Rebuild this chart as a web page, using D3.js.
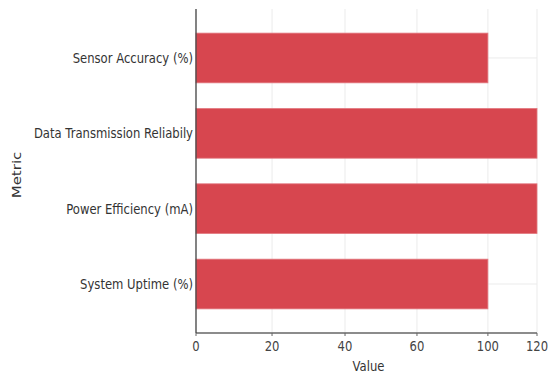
<!DOCTYPE html>
<html>
<head>
<meta charset="utf-8">
<script src="https://cdn.jsdelivr.net/npm/d3@7"></script>
<style>
  html, body { margin: 0; padding: 0; background: #fff; }
  svg { display: block; }
  text { font-family: "DejaVu Sans", sans-serif; fill: #333; }
</style>
</head>
<body>
<svg id="chart" width="548" height="376"></svg>
<script>
// Metrics, top to bottom
const categories = [
  "Sensor Accuracy (%)",
  "Data Transmission Reliabily",
  "Power Efficiency (mA)",
  "System Uptime (%)"
];
const values = [100, 120, 120, 100];
const xTicks = [0, 20, 40, 60, 100, 120];
const xLabel = "Value";
const yLabel = "Metric";

const svg = d3.select("#chart");
const margin = { left: 196, right: 11, top: 9, bottom: 43 };
const W = 548, H = 376;
const plotW = W - margin.left - margin.right;
const plotH = H - margin.top - margin.bottom;
const squeeze = 0.83; // narrow text rendering

// Value axis: uneven spacing between the labelled ticks
const xFrac = [0, 0.223, 0.437, 0.648, 0.856, 1];
const x = d3.scaleLinear()
  .domain(xTicks)
  .range(xFrac.map(f => margin.left + f * plotW));

const y = d3.scaleBand()
  .domain(categories)
  .range([margin.top, margin.top + plotH])
  .paddingInner(0.34)
  .paddingOuter(0.32);

const g = svg.append("g");

// vertical gridlines
g.selectAll(".vgrid").data(xTicks).join("line")
  .attr("x1", d => x(d)).attr("x2", d => x(d))
  .attr("y1", margin.top).attr("y2", margin.top + plotH)
  .attr("stroke", "#ebebeb").attr("stroke-width", 1);

// horizontal gridlines at category centres
g.selectAll(".hgrid").data(categories).join("line")
  .attr("x1", margin.left).attr("x2", margin.left + plotW)
  .attr("y1", d => y(d) + y.bandwidth() / 2)
  .attr("y2", d => y(d) + y.bandwidth() / 2)
  .attr("stroke", "#ebebeb").attr("stroke-width", 1);

// bars
g.selectAll(".bar").data(categories).join("rect")
  .attr("x", x(0))
  .attr("y", d => y(d))
  .attr("width", (d, i) => x(values[i]) - x(0))
  .attr("height", y.bandwidth())
  .attr("fill", "#d7464f")
  .attr("stroke", "#e37a81")
  .attr("stroke-width", 0.8);

// bottom axis line and ticks
g.append("line")
  .attr("x1", margin.left).attr("x2", margin.left + plotW)
  .attr("y1", margin.top + plotH).attr("y2", margin.top + plotH)
  .attr("stroke", "#666").attr("stroke-width", 1.5);
g.selectAll(".xtick").data(xTicks).join("line")
  .attr("x1", d => x(d)).attr("x2", d => x(d))
  .attr("y1", margin.top + plotH).attr("y2", margin.top + plotH + 3)
  .attr("stroke", "#666").attr("stroke-width", 1);

// left axis line
g.append("line")
  .attr("x1", margin.left).attr("x2", margin.left)
  .attr("y1", margin.top).attr("y2", margin.top + plotH)
  .attr("stroke", "#444").attr("stroke-width", 1.3);

// tick labels
g.selectAll(".xlab").data(xTicks).join("text")
  .attr("transform", d => `translate(${x(d)},${margin.top + plotH + 18}) scale(${squeeze},1)`)
  .attr("text-anchor", "middle")
  .attr("font-size", 14)
  .style("fill", "#444")
  .text(d => d);

g.selectAll(".ylab").data(categories).join("text")
  .attr("transform", d => `translate(${margin.left - 3},${y(d) + y.bandwidth() / 2}) scale(${squeeze},1)`)
  .attr("text-anchor", "end")
  .attr("dy", "0.35em")
  .attr("font-size", 14)
  .text(d => d);

// axis titles
g.append("text")
  .attr("transform", `translate(${margin.left + plotW / 2 + 2},${H - 5}) scale(${squeeze},1)`)
  .attr("text-anchor", "middle")
  .attr("font-size", 14)
  .text(xLabel);

g.append("text")
  .attr("transform", `translate(20.5,175) scale(${squeeze},1) rotate(-90)`)
  .attr("text-anchor", "middle")
  .attr("font-size", 15)
  .text(yLabel);
</script>
</body>
</html>
